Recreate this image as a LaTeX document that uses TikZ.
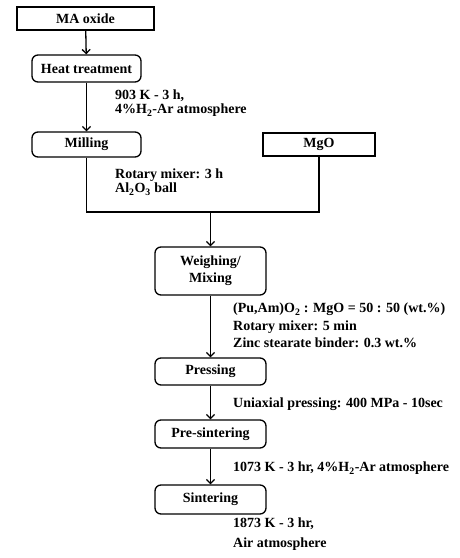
\documentclass[tikz,border=0pt]{standalone}
\usepackage{fontspec}
\setmainfont{Liberation Serif}
\usetikzlibrary{arrows.meta}

\begin{document}
\begin{tikzpicture}[
    x=1pt, y=-1pt,
    stepbox/.style={draw, line width=1.3pt, minimum width=111pt, inner sep=0pt, align=center, font=\bfseries\fontsize{14}{17}\selectfont},
    roundbox/.style={stepbox, rounded corners=6pt},
    note/.style={anchor=north west, align=left, inner sep=0pt, font=\bfseries\fontsize{14}{14}\selectfont},
    flow/.style={line width=1.3pt, -{Straight Barb[length=4pt,width=8pt,line width=1.3pt]}}
]
    \useasboundingbox (0,0) rectangle (460,558);

    % Starting materials
    \node[stepbox, minimum width=137pt, minimum height=23pt] (ma) at (85.5,18.5) {MA oxide};
    \node[roundbox, minimum width=109pt, minimum height=27pt] (heat) at (86.5,68.5) {Heat treatment};
    \node[roundbox, minimum width=109pt, minimum height=25pt] (mill) at (86.5,144.5) {Milling};
    \node[stepbox, minimum width=112pt, minimum height=23pt] (mgo) at (319,144.5) {MgO};

    % Pellet fabrication
    \node[roundbox, minimum height=48pt] (weigh) at (210.5,271) {Weighing/\\Mixing};
    \node[roundbox, minimum height=27pt] (press) at (210.5,371.5) {Pressing};
    \node[roundbox, minimum height=28pt] (presint) at (210.5,434) {Pre-sintering};
    \node[roundbox, minimum height=29pt] (sinter) at (210.5,499.5) {Sintering};

    % Process conditions
    \node[note] (heatcond) at (115,90) {903 K - 3 h,\\4\%H\textsubscript{2}-Ar atmosphere};
    \node[note] (millcond) at (115,169) {Rotary mixer: 3 h\\Al\textsubscript{2}O\textsubscript{3} ball};
    \node[note, font=\bfseries\fontsize{14}{17.5}\selectfont] (mixcond) at (233,303)
        {(Pu,Am)O\textsubscript{2} : MgO = 50 : 50 (wt.\%)\\Rotary mixer: 5 min\\Zinc stearate binder: 0.3 wt.\%};
    \node[note] (presscond) at (233,398) {Uniaxial pressing: 400 MPa - 10sec};
    \node[note] (presintcond) at (233,462) {1073 K - 3 hr, 4\%H\textsubscript{2}-Ar atmosphere};
    \node[note, font=\bfseries\fontsize{14}{20}\selectfont] (sintercond) at (233,518) {1873 K - 3 hr,\\Air atmosphere};

    % Connectors
    \coordinate (join) at (210.5,212);
    \draw[flow] (ma) -- (heat);
    \draw[flow] (heat) -- (mill);
    \draw[line width=1.3pt] (mill.south) |- (join) -| (mgo.south);
    \draw[flow] (join) -- (weigh);
    \draw[flow] (weigh) -- (press);
    \draw[flow] (press) -- (presint);
    \draw[flow] (presint) -- (sinter);

\end{tikzpicture}
\end{document}
